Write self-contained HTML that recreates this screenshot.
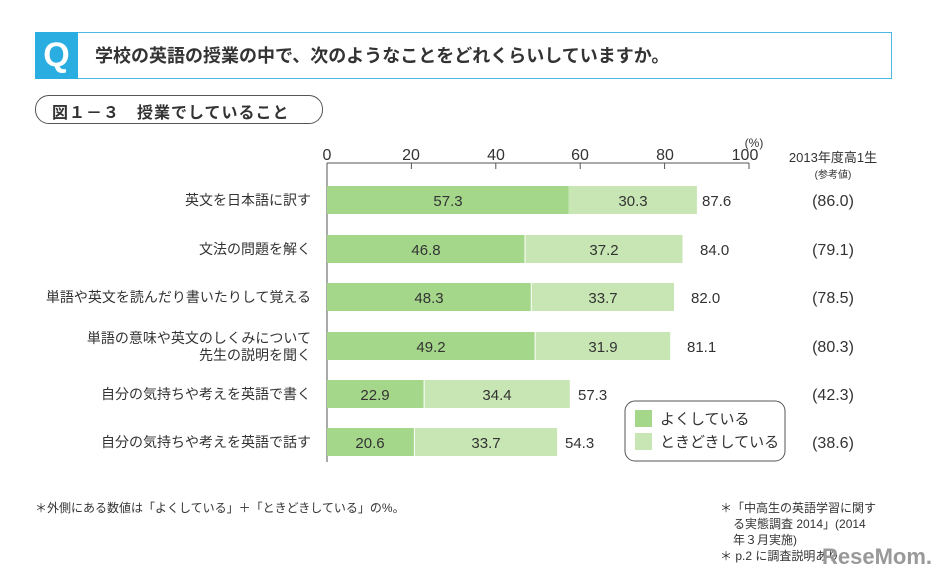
<!DOCTYPE html>
<html><head><meta charset="utf-8"><style>
body{margin:0;width:935px;height:580px;background:#fff;font-family:"Liberation Sans","Noto Sans CJK JP",sans-serif;color:#222;position:relative;overflow:hidden}
.a{position:absolute;white-space:nowrap}
</style></head><body>
<div class="a" style="left:35px;top:32px;width:857px;height:47px;border:1.5px solid #4bb8e2;box-sizing:border-box"></div>
<div class="a" style="left:35px;top:32px;width:43px;height:47px;background:#2aaee2;color:#fff;font-size:34px;font-weight:bold;text-align:center;line-height:47px">Q</div>
<div class="a" style="left:95px;top:42px;font-size:18px;font-weight:bold;color:#333">学校の英語の授業の中で、次のようなことをどれくらいしていますか。</div>
<div class="a" style="left:35px;top:95px;width:288px;height:29px;border:1px solid #555;border-radius:14px;box-sizing:border-box"></div>
<div class="a" style="left:52px;top:99px;font-size:16px;font-weight:bold;color:#333;letter-spacing:1px">図１－３　授業でしていること</div>
<svg class="a" style="left:0;top:0" width="935" height="580">
<g font-family="Liberation Sans,Noto Sans CJK JP,sans-serif" fill="#333">
<line x1="327" y1="163" x2="327" y2="462" stroke="#555"/>
<line x1="327" y1="163" x2="749" y2="163" stroke="#555"/>
<g stroke="#555"><line x1="411.4" y1="163" x2="411.4" y2="169"/><line x1="495.8" y1="163" x2="495.8" y2="169"/><line x1="580.2" y1="163" x2="580.2" y2="169"/><line x1="664.6" y1="163" x2="664.6" y2="169"/><line x1="749" y1="163" x2="749" y2="169"/></g>
<g font-size="16" text-anchor="middle"><text x="327" y="160">0</text><text x="411" y="160">20</text><text x="496" y="160">40</text><text x="580" y="160">60</text><text x="665" y="160">80</text><text x="745" y="160">100</text></g>
<text x="754" y="147" font-size="12" text-anchor="middle">(%)</text>
<text x="833" y="162" font-size="13" text-anchor="middle">2013年度高1生</text>
<text x="833" y="178" font-size="10" text-anchor="middle">(参考値)</text>
</g>
<g font-family="Liberation Sans,Noto Sans CJK JP,sans-serif" font-size="15" fill="#333">
<!-- rows -->
<g>
<rect x="327" y="186" width="241.8" height="28" fill="#a5d78b"/><rect x="569" y="186" width="127.9" height="28" fill="#c8e6b4"/>
<text x="448" y="206" text-anchor="middle">57.3</text><text x="633" y="206" text-anchor="middle">30.3</text><text x="702" y="206">87.6</text><text x="833" y="206" text-anchor="middle" font-size="16">(86.0)</text>
<text x="311" y="205" text-anchor="end" font-size="14">英文を日本語に訳す</text>
</g>
<g>
<rect x="327" y="235" width="197.5" height="28" fill="#a5d78b"/><rect x="525.5" y="235" width="157" height="28" fill="#c8e6b4"/>
<text x="426" y="255" text-anchor="middle">46.8</text><text x="604" y="255" text-anchor="middle">37.2</text><text x="700" y="255">84.0</text><text x="833" y="255" text-anchor="middle" font-size="16">(79.1)</text>
<text x="311" y="254" text-anchor="end" font-size="14">文法の問題を解く</text>
</g>
<g>
<rect x="327" y="283" width="203.8" height="28" fill="#a5d78b"/><rect x="531.8" y="283" width="142.2" height="28" fill="#c8e6b4"/>
<text x="429" y="303" text-anchor="middle">48.3</text><text x="603" y="303" text-anchor="middle">33.7</text><text x="691" y="303">82.0</text><text x="833" y="303" text-anchor="middle" font-size="16">(78.5)</text>
<text x="311" y="302" text-anchor="end" font-size="14">単語や英文を読んだり書いたりして覚える</text>
</g>
<g>
<rect x="327" y="332" width="207.6" height="28" fill="#a5d78b"/><rect x="535.6" y="332" width="134.6" height="28" fill="#c8e6b4"/>
<text x="431" y="352" text-anchor="middle">49.2</text><text x="603" y="352" text-anchor="middle">31.9</text><text x="687" y="352">81.1</text><text x="833" y="352" text-anchor="middle" font-size="16">(80.3)</text>
<text x="311" y="343" text-anchor="end" font-size="14">単語の意味や英文のしくみについて</text>
<text x="311" y="360" text-anchor="end" font-size="14">先生の説明を聞く</text>
</g>
<g>
<rect x="327" y="380" width="96.6" height="28" fill="#a5d78b"/><rect x="424.6" y="380" width="145.2" height="28" fill="#c8e6b4"/>
<text x="375" y="400" text-anchor="middle">22.9</text><text x="497" y="400" text-anchor="middle">34.4</text><text x="578" y="400">57.3</text><text x="833" y="400" text-anchor="middle" font-size="16">(42.3)</text>
<text x="311" y="399" text-anchor="end" font-size="14">自分の気持ちや考えを英語で書く</text>
</g>
<g>
<rect x="327" y="428" width="86.9" height="28" fill="#a5d78b"/><rect x="414.9" y="428" width="142.2" height="28" fill="#c8e6b4"/>
<text x="370" y="448" text-anchor="middle">20.6</text><text x="486" y="448" text-anchor="middle">33.7</text><text x="565" y="448">54.3</text><text x="833" y="448" text-anchor="middle" font-size="16">(38.6)</text>
<text x="311" y="447" text-anchor="end" font-size="14">自分の気持ちや考えを英語で話す</text>
</g>
</g>
<rect x="625" y="401" width="160" height="60" rx="10" fill="#fff" stroke="#555"/>
<rect x="635" y="410" width="17" height="17" fill="#a5d78b"/><rect x="635" y="433" width="17" height="17" fill="#c8e6b4"/>
<g font-family="Liberation Sans,Noto Sans CJK JP,sans-serif" font-size="15" fill="#333">
<text x="660" y="424">よくしている</text><text x="660" y="447">ときどきしている</text>
</g>
<g font-family="Liberation Sans,Noto Sans CJK JP,sans-serif" font-size="12" fill="#333">
<text x="35" y="512">＊外側にある数値は「よくしている」＋「ときどきしている」の%。</text>
<text x="720" y="512">＊「中高生の英語学習に関す</text>
<text x="733" y="528">る実態調査 2014」(2014</text>
<text x="733" y="544">年３月実施)</text>
<text x="720" y="560">＊ p.2 に調査説明あり</text>
</g>
<text x="822" y="564" font-family="Liberation Sans,sans-serif" font-size="22" font-weight="bold" fill="#999">ReseMom.</text>
</svg>
</body></html>
